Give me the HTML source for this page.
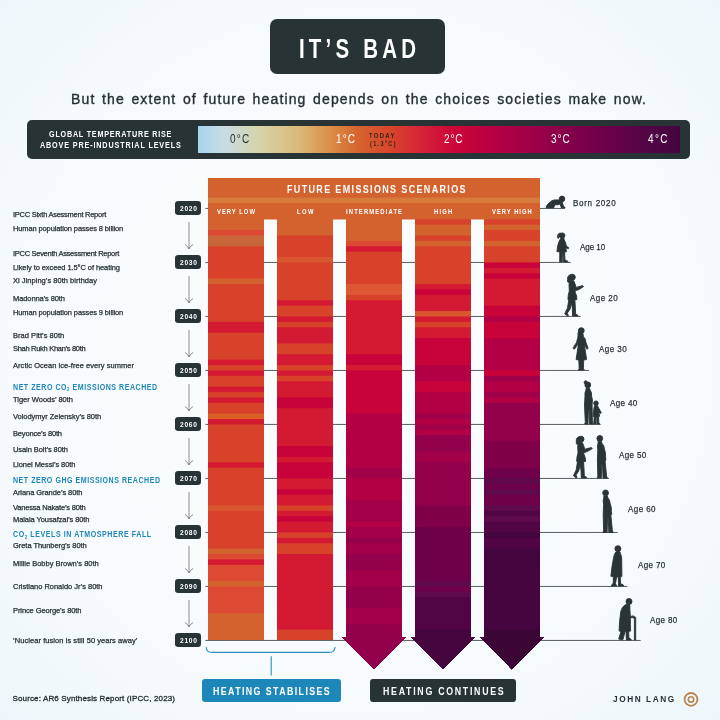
<!DOCTYPE html>
<html lang="en"><head><meta charset="utf-8"><title>It's bad</title>
<style>
html,body{margin:0;padding:0}
body{width:720px;height:720px;overflow:hidden;position:relative;background:#f4f9fc;font-family:'Liberation Sans', sans-serif}
#bg{position:absolute;left:0;top:0;width:720px;height:720px;background:radial-gradient(ellipse 78% 78% at 50% 50%,#fbfdfe 0%,#f7fbfd 55%,#ecf5fa 100%)}
.t{position:absolute;white-space:nowrap;line-height:1;transform-origin:0 0}
.t sub{font-size:62%;vertical-align:baseline;position:relative;top:0.25em}
.box{position:absolute;background:#283335}
.yb{position:absolute;left:175.25px;width:26px;height:13.7px;border-radius:3.2px;background:#283335}
svg{position:absolute;left:0;top:0}
</style></head><body>
<div id="bg"></div>
<div class="box" style="left:270px;top:19px;width:174.5px;height:55.3px;border-radius:7px"></div>
<div class="box" style="left:27.3px;top:120px;width:663px;height:39.3px;border-radius:5px"></div>
<div style="position:absolute;left:197.7px;top:125.8px;width:482.3px;height:26.8px;background:linear-gradient(90deg,#a6d3ef 0%,#c6dde6 5%,#d6d3a8 13%,#dcb878 21%,#da8a44 28%,#d6652f 33%,#d8452b 40%,#d5203a 47%,#cd0638 53%,#b70043 61%,#9c0049 70%,#84004a 77%,#6b0049 85%,#520545 93%,#450540 100%)"></div>
<svg width="720" height="720" viewBox="0 0 720 720">
<line x1="205.4" y1="208.45" x2="565" y2="208.45" stroke="#454d4f" stroke-width="0.9"/>
<line x1="205.4" y1="262.45" x2="570.7" y2="262.45" stroke="#454d4f" stroke-width="0.9"/>
<line x1="205.4" y1="316.45" x2="580.7" y2="316.45" stroke="#454d4f" stroke-width="0.9"/>
<line x1="205.4" y1="370.45" x2="589" y2="370.45" stroke="#454d4f" stroke-width="0.9"/>
<line x1="205.4" y1="424.45" x2="600.7" y2="424.45" stroke="#454d4f" stroke-width="0.9"/>
<line x1="205.4" y1="478.45" x2="609" y2="478.45" stroke="#454d4f" stroke-width="0.9"/>
<line x1="205.4" y1="532.45" x2="617.7" y2="532.45" stroke="#454d4f" stroke-width="0.9"/>
<line x1="205.4" y1="586.45" x2="627.3" y2="586.45" stroke="#454d4f" stroke-width="0.9"/>
<line x1="205.4" y1="640.45" x2="640.7" y2="640.45" stroke="#454d4f" stroke-width="0.9"/>
<rect x="208" y="178" width="332" height="41.5" fill="#d4622f"/>
<rect x="208" y="197.6" width="332" height="5.4" fill="#d77b3d"/>
<clipPath id="cp0"><rect x="208" y="178" width="56" height="462"/></clipPath>
<g clip-path="url(#cp0)">
<rect x="208" y="203.00" width="56" height="437.00" fill="#d4622f"/>
<rect x="208" y="230.05" width="56" height="409.95" fill="#dc4a33"/>
<rect x="208" y="235.45" width="56" height="404.55" fill="#c8683a"/>
<rect x="208" y="246.25" width="56" height="393.75" fill="#d8422b"/>
<rect x="208" y="278.65" width="56" height="361.35" fill="#d4622f"/>
<rect x="208" y="284.05" width="56" height="355.95" fill="#d8422b"/>
<rect x="208" y="321.85" width="56" height="318.15" fill="#d41a33"/>
<rect x="208" y="332.65" width="56" height="307.35" fill="#d8422b"/>
<rect x="208" y="359.65" width="56" height="280.35" fill="#d41a33"/>
<rect x="208" y="365.05" width="56" height="274.95" fill="#d8422b"/>
<rect x="208" y="370.45" width="56" height="269.55" fill="#d41a33"/>
<rect x="208" y="375.85" width="56" height="264.15" fill="#d8422b"/>
<rect x="208" y="386.65" width="56" height="253.35" fill="#d41a33"/>
<rect x="208" y="392.05" width="56" height="247.95" fill="#d8422b"/>
<rect x="208" y="397.45" width="56" height="242.55" fill="#d41a33"/>
<rect x="208" y="402.85" width="56" height="237.15" fill="#d8422b"/>
<rect x="208" y="413.65" width="56" height="226.35" fill="#d95f25"/>
<rect x="208" y="419.05" width="56" height="220.95" fill="#d41a33"/>
<rect x="208" y="424.45" width="56" height="215.55" fill="#d8422b"/>
<rect x="208" y="462.25" width="56" height="177.75" fill="#d41a33"/>
<rect x="208" y="467.65" width="56" height="172.35" fill="#d8422b"/>
<rect x="208" y="505.45" width="56" height="134.55" fill="#d9572e"/>
<rect x="208" y="510.85" width="56" height="129.15" fill="#d8422b"/>
<rect x="208" y="548.65" width="56" height="91.35" fill="#d4622f"/>
<rect x="208" y="554.05" width="56" height="85.95" fill="#dc4a33"/>
<rect x="208" y="559.45" width="56" height="80.55" fill="#d41a33"/>
<rect x="208" y="564.85" width="56" height="75.15" fill="#dc4a33"/>
<rect x="208" y="581.05" width="56" height="58.95" fill="#d4622f"/>
<rect x="208" y="586.45" width="56" height="53.55" fill="#dc4a33"/>
<rect x="208" y="613.45" width="56" height="26.55" fill="#d4622f"/>
</g>
<clipPath id="cp1"><rect x="277" y="178" width="56" height="462"/></clipPath>
<g clip-path="url(#cp1)">
<rect x="277" y="203.00" width="56" height="437.00" fill="#d4622f"/>
<rect x="277" y="235.45" width="56" height="404.55" fill="#d8422b"/>
<rect x="277" y="257.05" width="56" height="382.95" fill="#d9572e"/>
<rect x="277" y="262.45" width="56" height="377.55" fill="#d8422b"/>
<rect x="277" y="300.25" width="56" height="339.75" fill="#d41a33"/>
<rect x="277" y="305.65" width="56" height="334.35" fill="#d8422b"/>
<rect x="277" y="316.45" width="56" height="323.55" fill="#d41a33"/>
<rect x="277" y="321.85" width="56" height="318.15" fill="#d8422b"/>
<rect x="277" y="327.25" width="56" height="312.75" fill="#d41a33"/>
<rect x="277" y="343.45" width="56" height="296.55" fill="#d8422b"/>
<rect x="277" y="354.25" width="56" height="285.75" fill="#d41a33"/>
<rect x="277" y="365.05" width="56" height="274.95" fill="#d8422b"/>
<rect x="277" y="370.45" width="56" height="269.55" fill="#d41a33"/>
<rect x="277" y="375.85" width="56" height="264.15" fill="#d8422b"/>
<rect x="277" y="381.25" width="56" height="258.75" fill="#d41a33"/>
<rect x="277" y="397.45" width="56" height="242.55" fill="#c8033a"/>
<rect x="277" y="408.25" width="56" height="231.75" fill="#d41a33"/>
<rect x="277" y="446.05" width="56" height="193.95" fill="#c8033a"/>
<rect x="277" y="456.85" width="56" height="183.15" fill="#d41a33"/>
<rect x="277" y="462.25" width="56" height="177.75" fill="#c8033a"/>
<rect x="277" y="478.45" width="56" height="161.55" fill="#d41a33"/>
<rect x="277" y="489.25" width="56" height="150.75" fill="#c8033a"/>
<rect x="277" y="494.65" width="56" height="145.35" fill="#d41a33"/>
<rect x="277" y="505.45" width="56" height="134.55" fill="#d8422b"/>
<rect x="277" y="510.85" width="56" height="129.15" fill="#d41a33"/>
<rect x="277" y="516.25" width="56" height="123.75" fill="#c8033a"/>
<rect x="277" y="521.65" width="56" height="118.35" fill="#d41a33"/>
<rect x="277" y="532.45" width="56" height="107.55" fill="#d8422b"/>
<rect x="277" y="537.85" width="56" height="102.15" fill="#d41a33"/>
<rect x="277" y="543.25" width="56" height="96.75" fill="#d8422b"/>
<rect x="277" y="554.05" width="56" height="85.95" fill="#d41a33"/>
<rect x="277" y="629.65" width="56" height="10.35" fill="#d8422b"/>
</g>
<clipPath id="cp2"><path d="M346 178H402V637.5H405.5L374.0 669.3L342.5 637.5H346Z"/></clipPath>
<g clip-path="url(#cp2)">
<rect x="342" y="203.00" width="64" height="477.00" fill="#d4622f"/>
<rect x="342" y="240.85" width="64" height="439.15" fill="#dc4a33"/>
<rect x="342" y="246.25" width="64" height="433.75" fill="#d41a33"/>
<rect x="342" y="251.65" width="64" height="428.35" fill="#d8422b"/>
<rect x="342" y="284.05" width="64" height="395.95" fill="#de5733"/>
<rect x="342" y="294.85" width="64" height="385.15" fill="#d8422b"/>
<rect x="342" y="300.25" width="64" height="379.75" fill="#d41a33"/>
<rect x="342" y="354.25" width="64" height="325.75" fill="#c8033a"/>
<rect x="342" y="365.05" width="64" height="314.95" fill="#d41a33"/>
<rect x="342" y="370.45" width="64" height="309.55" fill="#c8033a"/>
<rect x="342" y="413.65" width="64" height="266.35" fill="#b30045"/>
<rect x="342" y="467.65" width="64" height="212.35" fill="#a3004a"/>
<rect x="342" y="478.45" width="64" height="201.55" fill="#b30045"/>
<rect x="342" y="500.05" width="64" height="179.95" fill="#a3004a"/>
<rect x="342" y="521.65" width="64" height="158.35" fill="#b30045"/>
<rect x="342" y="527.05" width="64" height="152.95" fill="#a3004a"/>
<rect x="342" y="537.85" width="64" height="142.15" fill="#93004b"/>
<rect x="342" y="543.25" width="64" height="136.75" fill="#a3004a"/>
<rect x="342" y="554.05" width="64" height="125.95" fill="#93004b"/>
<rect x="342" y="570.25" width="64" height="109.75" fill="#a3004a"/>
<rect x="342" y="586.45" width="64" height="93.55" fill="#93004b"/>
<rect x="342" y="608.05" width="64" height="71.95" fill="#a3004a"/>
<rect x="342" y="624.25" width="64" height="55.75" fill="#93004b"/>
</g>
<clipPath id="cp3"><path d="M415 178H471V637.5H474.5L443.0 669.3L411.5 637.5H415Z"/></clipPath>
<g clip-path="url(#cp3)">
<rect x="411" y="203.00" width="64" height="477.00" fill="#d4622f"/>
<rect x="411" y="219.25" width="64" height="460.75" fill="#d8422b"/>
<rect x="411" y="224.65" width="64" height="455.35" fill="#d4622f"/>
<rect x="411" y="235.45" width="64" height="444.55" fill="#d8422b"/>
<rect x="411" y="240.85" width="64" height="439.15" fill="#d4622f"/>
<rect x="411" y="246.25" width="64" height="433.75" fill="#d8422b"/>
<rect x="411" y="284.05" width="64" height="395.95" fill="#d41a33"/>
<rect x="411" y="289.45" width="64" height="390.55" fill="#c8033a"/>
<rect x="411" y="294.85" width="64" height="385.15" fill="#d41a33"/>
<rect x="411" y="311.05" width="64" height="368.95" fill="#d9572e"/>
<rect x="411" y="316.45" width="64" height="363.55" fill="#d41a33"/>
<rect x="411" y="321.85" width="64" height="358.15" fill="#d8422b"/>
<rect x="411" y="327.25" width="64" height="352.75" fill="#d41a33"/>
<rect x="411" y="338.05" width="64" height="341.95" fill="#c8033a"/>
<rect x="411" y="365.05" width="64" height="314.95" fill="#b30045"/>
<rect x="411" y="381.25" width="64" height="298.75" fill="#c8033a"/>
<rect x="411" y="392.05" width="64" height="287.95" fill="#b30045"/>
<rect x="411" y="413.65" width="64" height="266.35" fill="#a3004a"/>
<rect x="411" y="419.05" width="64" height="260.95" fill="#b30045"/>
<rect x="411" y="424.45" width="64" height="255.55" fill="#a3004a"/>
<rect x="411" y="429.85" width="64" height="250.15" fill="#b30045"/>
<rect x="411" y="435.25" width="64" height="244.75" fill="#93004b"/>
<rect x="411" y="451.45" width="64" height="228.55" fill="#a3004a"/>
<rect x="411" y="462.25" width="64" height="217.75" fill="#93004b"/>
<rect x="411" y="505.45" width="64" height="174.55" fill="#800048"/>
<rect x="411" y="527.05" width="64" height="152.95" fill="#6d0048"/>
<rect x="411" y="581.05" width="64" height="98.95" fill="#5e0a4c"/>
<rect x="411" y="586.45" width="64" height="93.55" fill="#6d0048"/>
<rect x="411" y="591.85" width="64" height="88.15" fill="#5e0a4c"/>
<rect x="411" y="597.25" width="64" height="82.75" fill="#520544"/>
<rect x="411" y="629.65" width="64" height="50.35" fill="#45053f"/>
</g>
<clipPath id="cp4"><path d="M484 178H540V637.5H543.5L512.0 669.3L480.5 637.5H484Z"/></clipPath>
<g clip-path="url(#cp4)">
<rect x="480" y="203.00" width="64" height="477.00" fill="#d4622f"/>
<rect x="480" y="219.25" width="64" height="460.75" fill="#d8422b"/>
<rect x="480" y="224.65" width="64" height="455.35" fill="#d4622f"/>
<rect x="480" y="230.05" width="64" height="449.95" fill="#d8422b"/>
<rect x="480" y="240.85" width="64" height="439.15" fill="#d4622f"/>
<rect x="480" y="246.25" width="64" height="433.75" fill="#d8422b"/>
<rect x="480" y="262.45" width="64" height="417.55" fill="#c8033a"/>
<rect x="480" y="267.85" width="64" height="412.15" fill="#d41a33"/>
<rect x="480" y="273.25" width="64" height="406.75" fill="#c8033a"/>
<rect x="480" y="278.65" width="64" height="401.35" fill="#d41a33"/>
<rect x="480" y="305.65" width="64" height="374.35" fill="#c8033a"/>
<rect x="480" y="316.45" width="64" height="363.55" fill="#b30045"/>
<rect x="480" y="321.85" width="64" height="358.15" fill="#c8033a"/>
<rect x="480" y="338.05" width="64" height="341.95" fill="#b30045"/>
<rect x="480" y="370.45" width="64" height="309.55" fill="#c8033a"/>
<rect x="480" y="375.85" width="64" height="304.15" fill="#a3004a"/>
<rect x="480" y="381.25" width="64" height="298.75" fill="#b30045"/>
<rect x="480" y="392.05" width="64" height="287.95" fill="#a3004a"/>
<rect x="480" y="397.45" width="64" height="282.55" fill="#b30045"/>
<rect x="480" y="402.85" width="64" height="277.15" fill="#93004b"/>
<rect x="480" y="440.65" width="64" height="239.35" fill="#800048"/>
<rect x="480" y="467.65" width="64" height="212.35" fill="#6d0048"/>
<rect x="480" y="478.45" width="64" height="201.55" fill="#5e0a4c"/>
<rect x="480" y="483.85" width="64" height="196.15" fill="#6d0048"/>
<rect x="480" y="489.25" width="64" height="190.75" fill="#5e0a4c"/>
<rect x="480" y="494.65" width="64" height="185.35" fill="#6d0048"/>
<rect x="480" y="505.45" width="64" height="174.55" fill="#5e0a4c"/>
<rect x="480" y="510.85" width="64" height="169.15" fill="#520544"/>
<rect x="480" y="516.25" width="64" height="163.75" fill="#5e0a4c"/>
<rect x="480" y="521.65" width="64" height="158.35" fill="#520544"/>
<rect x="480" y="532.45" width="64" height="147.55" fill="#45053f"/>
<rect x="480" y="537.85" width="64" height="142.15" fill="#520544"/>
<rect x="480" y="548.65" width="64" height="131.35" fill="#45053f"/>
<rect x="480" y="629.65" width="64" height="50.35" fill="#3b0535"/>
</g>
<path d="M189 222.3V248.6M185.4 244.7Q188 246.5 189 248.9Q190 246.5 192.7 244.7" fill="none" stroke="#4d5658" stroke-width="0.65" stroke-linecap="round"/><path d="M189 276.3V302.6M185.4 298.7Q188 300.5 189 302.9Q190 300.5 192.7 298.7" fill="none" stroke="#4d5658" stroke-width="0.65" stroke-linecap="round"/><path d="M189 330.3V356.6M185.4 352.7Q188 354.5 189 356.9Q190 354.5 192.7 352.7" fill="none" stroke="#4d5658" stroke-width="0.65" stroke-linecap="round"/><path d="M189 384.3V410.6M185.4 406.7Q188 408.5 189 410.9Q190 408.5 192.7 406.7" fill="none" stroke="#4d5658" stroke-width="0.65" stroke-linecap="round"/><path d="M189 438.3V464.6M185.4 460.7Q188 462.5 189 464.9Q190 462.5 192.7 460.7" fill="none" stroke="#4d5658" stroke-width="0.65" stroke-linecap="round"/><path d="M189 492.3V518.6M185.4 514.7Q188 516.5 189 518.9Q190 516.5 192.7 514.7" fill="none" stroke="#4d5658" stroke-width="0.65" stroke-linecap="round"/><path d="M189 546.3V572.6M185.4 568.7Q188 570.5 189 572.9Q190 570.5 192.7 568.7" fill="none" stroke="#4d5658" stroke-width="0.65" stroke-linecap="round"/><path d="M189 600.3V626.6M185.4 622.7Q188 624.5 189 626.9Q190 624.5 192.7 622.7" fill="none" stroke="#4d5658" stroke-width="0.65" stroke-linecap="round"/>
<path d="M206.1 647.2Q206.4 652.4 212 652.4H329Q334.7 652.4 335 647.2" fill="none" stroke="#2a8fc0" stroke-width="1.1" stroke-linecap="round"/>
<line x1="271.2" y1="656.2" x2="271.2" y2="675.6" stroke="#2a8fc0" stroke-width="1.1"/>
<g fill="#2a3437" stroke="#2a3437" stroke-width="0.9" stroke-linejoin="round">
<!-- baby -->
<circle cx="562" cy="198.9" r="2.8"/>
<path d="M546.2 207.9L546.9 205.6Q548 203.2 549.8 202.6Q551 200.3 554.5 199.9L559.6 199.9Q561.8 200.2 562.3 202.2L563.6 206.7L565 207.2L565 207.9L561.4 207.9L560 204L557.6 204.8L554.8 204.8L553.6 207.9L549.4 207.9L551 205.8L548.6 207.9Z"/>
<!-- girl 10 -->
<circle cx="562.3" cy="235.5" r="2.6"/>
<path d="M561 233.2Q557.3 232.6 557.5 237.6Q558.4 239.4 559.2 237.2Q559.4 235.6 560.8 235.8Z"/>
<path d="M561 237.8L563.6 237.8L564.3 240Q566 243 566.3 246L568.8 247.8L568.3 248.7L565.9 247.7L566.4 251.8L564.6 252L565 260.2L567.9 261.2L567.9 261.9L563.4 261.9L563 253L562.4 253L562.2 261.9L559.7 261.9L559.8 252L556.9 251.5Q557.5 245 559 241.5Z"/>
<!-- woman 20 (walking, phone) -->
<g id="walker">
<circle cx="572.4" cy="277.2" r="2.9"/>
<path d="M571 274.6Q566.8 275.6 567.7 280Q566.8 282.2 568.8 282.5Q570.2 281.6 570.5 279.4Z"/>
<path d="M570.2 280.6L573.6 280.6L574.9 283.5L576.1 287.4L582.6 285.6L583.6 286.6L578.6 289.7L575.3 290.6L575.1 292Q577.1 296 576.9 299.5L574.9 299.7L575.3 307L575.6 314L577.9 315.3L577.9 316L572.6 316L572.3 308L571.3 303L570.1 309L567.3 313.2L568.4 315.5L567.5 316L564.7 313.8L567.5 308L568.8 299.7L567.9 299.5Q568 295 569.3 291L569 284Z"/>
</g>
<!-- woman 30 (dress) -->
<circle cx="581.3" cy="330.6" r="2.9"/>
<path d="M579.6 328.4Q577.2 333 578 337.8L580.2 338.2L580.8 333Z"/>
<path d="M579.6 333.6L583 333.6L583.4 336.9L585.1 338.5L586.1 343L587.9 347.5L587.7 349L586.6 348.9L584.6 344L584.7 347L586.6 359.6L583.7 359.9L583.4 369L584.4 370L578.2 370L579.2 369L578.8 359.9L576.1 359.6L578 347L578 343.6L574.9 348.7L573.3 349L573.3 347.6L576.5 342.5L577.5 338.5Z"/>
<!-- woman 40 with child -->
<circle cx="587.8" cy="384.9" r="2.9"/>
<circle cx="585.7" cy="382.4" r="1.6"/>
<path d="M586 388.3L589.6 388.3L590.1 390Q591.9 392 591.6 396L592.4 400L592.1 405L592.4 423L593.2 424L589.5 424L589.3 410L588.5 410L588 424L584.6 424L585.3 423L584.5 405L585 396Q584.6 392 586 390Z"/>
<circle cx="596" cy="403.2" r="2.3"/>
<path d="M594.5 405.6L597.5 405.6L598.6 408L601.3 412.6L600.7 413.5L598.8 411.9L599.7 416.3L598.6 416.6L598.8 423L599.9 424L597 424L597 417L596.2 417L596 424L593.7 424L594.2 416.6L593 416.3L593.8 409Z"/>
<!-- age 50: walker + standing -->
<use href="#walker" transform="translate(8.7,161.9)"/>
<g id="stander">
<circle cx="599.8" cy="438.4" r="2.9"/>
<path d="M598 441.6L601.6 441.6L602.1 443.5Q604.1 445 604.4 449Q605.9 453 605.6 457L605.9 460L605.1 461L606.6 476.5L607.5 478L603 478L602.5 464L601.8 464L601.3 478L597.1 478L597.8 476.5L597.4 460L597.8 450Q596.9 445 598 443.5Z"/>
</g>
<!-- age 60 -->
<use href="#stander" transform="translate(5.8,54.5)"/>
<!-- age 70 -->
<circle cx="617.9" cy="548.7" r="3"/>
<path d="M616 551.8L619.9 551.8L620.4 553.5Q621.9 556 621.7 560L621.9 576.6L620.3 576.6L620.6 583.5L623.7 585.3L623.7 586L618.5 586L618.3 577L616.6 577L615.5 583.5L616.6 586L611.1 586L613.3 583L613.3 576.6L610.9 576.3Q611.8 566 613.5 558Q614 554 616 551.8Z"/>
<!-- age 80 -->
<circle cx="629" cy="601.5" r="3"/>
<path d="M626.5 604.3Q622 606 620.7 612Q619.2 622 619.1 631L621 631.4L619 638L618.7 639L622.5 640L623.1 639L625 631.6L626 631.6L626.3 638.5L626.5 640L631.2 640L630.9 639L628.9 638L628.7 631.4L630.6 631.1Q630.4 624 630.3 618.6L632 617.4L634.4 618.3L634.4 640L635.7 640L635.7 617.5Q635.1 615.9 632.5 615.9L630.4 616.6L629.9 610Q630.1 606 629.4 604.3Z"/>
</g>

<circle cx="691" cy="699.4" r="6.4" fill="none" stroke="#b8864e" stroke-width="1.8"/>
<circle cx="691" cy="699.4" r="2.7" fill="none" stroke="#b8864e" stroke-width="1.6"/>
</svg>
<div class="yb" style="top:201.3px"></div><div class="yb" style="top:255.3px"></div><div class="yb" style="top:309.3px"></div><div class="yb" style="top:363.3px"></div><div class="yb" style="top:417.3px"></div><div class="yb" style="top:471.3px"></div><div class="yb" style="top:525.3px"></div><div class="yb" style="top:579.3px"></div><div class="yb" style="top:633.3px"></div>
<div style="position:absolute;left:201.7px;top:679.3px;width:139.3px;height:23.2px;border-radius:3px;background:#1d87b9"></div>
<div class="box" style="left:370.2px;top:679.3px;width:146px;height:23.2px;border-radius:3px"></div>
<div class="t" style="left:299.0px;top:33.97px;font-size:28.5px;font-weight:700;color:#fff;letter-spacing:5.797px;transform:scaleX(0.72)">IT’S BAD</div>
<div class="t" style="left:71.0px;top:91.65px;font-size:14px;font-weight:400;color:#263033;letter-spacing:1.143px;word-spacing:1.5px;-webkit-text-stroke:0.35px currentColor">But the extent of future heating depends on the choices societies make now.</div>
<div class="t" style="left:49.3px;top:129.68px;font-size:9px;font-weight:700;color:#fff;letter-spacing:0.969px;transform:scaleX(0.8)">GLOBAL TEMPERATURE RISE</div>
<div class="t" style="left:40.0px;top:141.08px;font-size:9px;font-weight:700;color:#fff;letter-spacing:1.078px;transform:scaleX(0.8)">ABOVE PRE-INDUSTRIAL LEVELS</div>
<div class="t" style="left:230.0px;top:133.42px;font-size:12.5px;font-weight:400;color:#263033;letter-spacing:1.570px;transform:scaleX(0.8)">0°C</div>
<div class="t" style="left:335.5px;top:133.42px;font-size:12.5px;font-weight:400;color:#fff;letter-spacing:1.383px;transform:scaleX(0.8)">1°C</div>
<div class="t" style="left:444.0px;top:133.42px;font-size:12.5px;font-weight:400;color:#fff;letter-spacing:1.133px;transform:scaleX(0.8)">2°C</div>
<div class="t" style="left:550.7px;top:133.42px;font-size:12.5px;font-weight:400;color:#fff;letter-spacing:1.258px;transform:scaleX(0.8)">3°C</div>
<div class="t" style="left:647.5px;top:133.42px;font-size:12.5px;font-weight:400;color:#fff;letter-spacing:1.695px;transform:scaleX(0.8)">4°C</div>
<div class="t" style="left:369.0px;top:132.07px;font-size:7px;font-weight:700;color:#3b2418;letter-spacing:1.537px;transform:scaleX(0.85)">TODAY</div>
<div class="t" style="left:370.0px;top:141.10px;font-size:6.5px;font-weight:700;color:#3b2418;letter-spacing:1.555px;transform:scaleX(0.85)">(1.3°C)</div>
<div class="t" style="left:286.5px;top:183.77px;font-size:11.5px;font-weight:700;color:#fff;letter-spacing:1.741px;transform:scaleX(0.78)">FUTURE EMISSIONS SCENARIOS</div>
<div class="t" style="left:217.2px;top:208.22px;font-size:7.3px;font-weight:700;color:#fff;letter-spacing:1.266px;transform:scaleX(0.8)">VERY LOW</div>
<div class="t" style="left:296.8px;top:208.22px;font-size:7.3px;font-weight:700;color:#fff;letter-spacing:1.859px;transform:scaleX(0.8)">LOW</div>
<div class="t" style="left:345.8px;top:208.22px;font-size:7.3px;font-weight:700;color:#fff;letter-spacing:1.438px;transform:scaleX(0.8)">INTERMEDIATE</div>
<div class="t" style="left:433.9px;top:208.22px;font-size:7.3px;font-weight:700;color:#fff;letter-spacing:1.458px;transform:scaleX(0.8)">HIGH</div>
<div class="t" style="left:491.7px;top:208.22px;font-size:7.3px;font-weight:700;color:#fff;letter-spacing:1.234px;transform:scaleX(0.8)">VERY HIGH</div>
<div class="t" style="left:180.0px;top:205.00px;font-size:7.8px;font-weight:700;color:#fff;letter-spacing:0.880px;transform:scaleX(0.85)">2020</div>
<div class="t" style="left:180.0px;top:259.00px;font-size:7.8px;font-weight:700;color:#fff;letter-spacing:0.880px;transform:scaleX(0.85)">2030</div>
<div class="t" style="left:180.0px;top:313.00px;font-size:7.8px;font-weight:700;color:#fff;letter-spacing:0.880px;transform:scaleX(0.85)">2040</div>
<div class="t" style="left:180.0px;top:367.00px;font-size:7.8px;font-weight:700;color:#fff;letter-spacing:0.880px;transform:scaleX(0.85)">2050</div>
<div class="t" style="left:180.0px;top:421.00px;font-size:7.8px;font-weight:700;color:#fff;letter-spacing:0.880px;transform:scaleX(0.85)">2060</div>
<div class="t" style="left:180.0px;top:475.00px;font-size:7.8px;font-weight:700;color:#fff;letter-spacing:0.880px;transform:scaleX(0.85)">2070</div>
<div class="t" style="left:180.0px;top:529.00px;font-size:7.8px;font-weight:700;color:#fff;letter-spacing:0.880px;transform:scaleX(0.85)">2080</div>
<div class="t" style="left:180.0px;top:583.00px;font-size:7.8px;font-weight:700;color:#fff;letter-spacing:0.880px;transform:scaleX(0.85)">2090</div>
<div class="t" style="left:180.0px;top:637.00px;font-size:7.8px;font-weight:700;color:#fff;letter-spacing:0.880px;transform:scaleX(0.85)">2100</div>
<div class="t" style="left:13.0px;top:210.68px;font-size:7.5px;font-weight:400;color:#263033;letter-spacing:-0.261px;-webkit-text-stroke:0.25px currentColor">IPCC Sixth Asessment Report</div>
<div class="t" style="left:13.0px;top:225.08px;font-size:7.5px;font-weight:400;color:#263033;letter-spacing:-0.125px;-webkit-text-stroke:0.25px currentColor">Human population passes 8 billion</div>
<div class="t" style="left:13.0px;top:249.73px;font-size:7.5px;font-weight:400;color:#263033;letter-spacing:-0.289px;-webkit-text-stroke:0.25px currentColor">IPCC Seventh Assessment Report</div>
<div class="t" style="left:13.0px;top:264.23px;font-size:7.5px;font-weight:400;color:#263033;letter-spacing:-0.086px;-webkit-text-stroke:0.25px currentColor">Likely to exceed 1.5°C of heating</div>
<div class="t" style="left:13.0px;top:276.98px;font-size:7.5px;font-weight:400;color:#263033;letter-spacing:0.030px;-webkit-text-stroke:0.25px currentColor">Xi Jinping’s 80th birthday</div>
<div class="t" style="left:13.0px;top:294.98px;font-size:7.5px;font-weight:400;color:#263033;letter-spacing:-0.096px;-webkit-text-stroke:0.25px currentColor">Madonna’s 80th</div>
<div class="t" style="left:13.0px;top:308.68px;font-size:7.5px;font-weight:400;color:#263033;letter-spacing:-0.125px;-webkit-text-stroke:0.25px currentColor">Human population passes 9 billion</div>
<div class="t" style="left:13.0px;top:331.68px;font-size:7.5px;font-weight:400;color:#263033;letter-spacing:0.038px;-webkit-text-stroke:0.25px currentColor">Brad Pitt’s 80th</div>
<div class="t" style="left:13.0px;top:344.98px;font-size:7.5px;font-weight:400;color:#263033;letter-spacing:-0.299px;-webkit-text-stroke:0.25px currentColor">Shah Rukh Khan’s 80th</div>
<div class="t" style="left:13.0px;top:361.68px;font-size:7.5px;font-weight:400;color:#263033;letter-spacing:0.042px;-webkit-text-stroke:0.25px currentColor">Arctic Ocean ice-free every summer</div>
<div class="t" style="left:13.0px;top:395.98px;font-size:7.5px;font-weight:400;color:#263033;letter-spacing:-0.011px;-webkit-text-stroke:0.25px currentColor">Tiger Woods’ 80th</div>
<div class="t" style="left:13.0px;top:412.58px;font-size:7.5px;font-weight:400;color:#263033;letter-spacing:-0.035px;-webkit-text-stroke:0.25px currentColor">Volodymyr Zelensky’s 80th</div>
<div class="t" style="left:13.0px;top:429.73px;font-size:7.5px;font-weight:400;color:#263033;letter-spacing:-0.166px;-webkit-text-stroke:0.25px currentColor">Beyonce’s 80th</div>
<div class="t" style="left:13.0px;top:445.98px;font-size:7.5px;font-weight:400;color:#263033;letter-spacing:-0.072px;-webkit-text-stroke:0.25px currentColor">Usain Bolt’s 80th</div>
<div class="t" style="left:13.0px;top:461.23px;font-size:7.5px;font-weight:400;color:#263033;letter-spacing:-0.064px;-webkit-text-stroke:0.25px currentColor">Lionel Messi’s 80th</div>
<div class="t" style="left:13.0px;top:488.73px;font-size:7.5px;font-weight:400;color:#263033;letter-spacing:-0.066px;-webkit-text-stroke:0.25px currentColor">Ariana Grande’s 80th</div>
<div class="t" style="left:13.0px;top:503.98px;font-size:7.5px;font-weight:400;color:#263033;letter-spacing:-0.185px;-webkit-text-stroke:0.25px currentColor">Vanessa Nakate’s 80th</div>
<div class="t" style="left:13.0px;top:516.48px;font-size:7.5px;font-weight:400;color:#263033;letter-spacing:-0.080px;-webkit-text-stroke:0.25px currentColor">Malala Yousafzai’s 80th</div>
<div class="t" style="left:13.0px;top:541.73px;font-size:7.5px;font-weight:400;color:#263033;letter-spacing:-0.052px;-webkit-text-stroke:0.25px currentColor">Greta Thunberg’s 80th</div>
<div class="t" style="left:13.0px;top:559.73px;font-size:7.5px;font-weight:400;color:#263033;letter-spacing:0.000px;-webkit-text-stroke:0.25px currentColor">Millie Bobby Brown’s 80th</div>
<div class="t" style="left:13.0px;top:582.98px;font-size:7.5px;font-weight:400;color:#263033;letter-spacing:-0.026px;-webkit-text-stroke:0.25px currentColor">Cristiano Ronaldo Jr’s 80th</div>
<div class="t" style="left:13.0px;top:607.23px;font-size:7.5px;font-weight:400;color:#263033;letter-spacing:-0.096px;-webkit-text-stroke:0.25px currentColor">Prince George’s 80th</div>
<div class="t" style="left:13.0px;top:637.18px;font-size:7.5px;font-weight:400;color:#263033;letter-spacing:0.062px;-webkit-text-stroke:0.25px currentColor">‘Nuclear fusion is still 50 years away’</div>
<div class="t" style="left:13.0px;top:383.08px;font-size:8.8px;font-weight:700;color:#1f86b8;letter-spacing:0.682px;transform:scaleX(0.8)">NET ZERO CO<sub>2</sub> EMISSIONS REACHED</div>
<div class="t" style="left:13.0px;top:476.08px;font-size:8.8px;font-weight:700;color:#1f86b8;letter-spacing:0.673px;transform:scaleX(0.8)">NET ZERO GHG EMISSIONS REACHED</div>
<div class="t" style="left:13.0px;top:530.18px;font-size:8.8px;font-weight:700;color:#1f86b8;letter-spacing:0.735px;transform:scaleX(0.8)">CO<sub>2</sub> LEVELS IN ATMOSPHERE FALL</div>
<div class="t" style="left:573.3px;top:197.53px;font-size:9.5px;font-weight:400;color:#263033;letter-spacing:0.799px;transform:scaleX(0.85);-webkit-text-stroke:0.25px currentColor">Born 2020</div>
<div class="t" style="left:580.0px;top:241.93px;font-size:9.5px;font-weight:400;color:#263033;letter-spacing:-0.072px;transform:scaleX(0.85);-webkit-text-stroke:0.25px currentColor">Age 10</div>
<div class="t" style="left:590.3px;top:292.53px;font-size:9.5px;font-weight:400;color:#263033;letter-spacing:0.493px;transform:scaleX(0.85);-webkit-text-stroke:0.25px currentColor">Age 20</div>
<div class="t" style="left:599.3px;top:343.53px;font-size:9.5px;font-weight:400;color:#263033;letter-spacing:0.493px;transform:scaleX(0.85);-webkit-text-stroke:0.25px currentColor">Age 30</div>
<div class="t" style="left:610.0px;top:397.53px;font-size:9.5px;font-weight:400;color:#263033;letter-spacing:0.399px;transform:scaleX(0.85);-webkit-text-stroke:0.25px currentColor">Age 40</div>
<div class="t" style="left:619.0px;top:450.23px;font-size:9.5px;font-weight:400;color:#263033;letter-spacing:0.399px;transform:scaleX(0.85);-webkit-text-stroke:0.25px currentColor">Age 50</div>
<div class="t" style="left:627.7px;top:503.53px;font-size:9.5px;font-weight:400;color:#263033;letter-spacing:0.469px;transform:scaleX(0.85);-webkit-text-stroke:0.25px currentColor">Age 60</div>
<div class="t" style="left:637.7px;top:560.23px;font-size:9.5px;font-weight:400;color:#263033;letter-spacing:0.399px;transform:scaleX(0.85);-webkit-text-stroke:0.25px currentColor">Age 70</div>
<div class="t" style="left:650.0px;top:615.23px;font-size:9.5px;font-weight:400;color:#263033;letter-spacing:0.399px;transform:scaleX(0.85);-webkit-text-stroke:0.25px currentColor">Age 80</div>
<div class="t" style="left:213.2px;top:685.59px;font-size:11px;font-weight:700;color:#fff;letter-spacing:1.774px;transform:scaleX(0.8)">HEATING STABILISES</div>
<div class="t" style="left:383.2px;top:685.59px;font-size:11px;font-weight:700;color:#fff;letter-spacing:2.146px;transform:scaleX(0.8)">HEATING CONTINUES</div>
<div class="t" style="left:12.5px;top:695.43px;font-size:8px;font-weight:400;color:#263033;letter-spacing:0.138px;-webkit-text-stroke:0.3px currentColor">Source: AR6 Synthesis Report (IPCC, 2023)</div>
<div class="t" style="left:613.0px;top:694.71px;font-size:9.2px;font-weight:700;color:#263033;letter-spacing:1.736px;transform:scaleX(0.9)">JOHN LANG</div>
</body></html>
